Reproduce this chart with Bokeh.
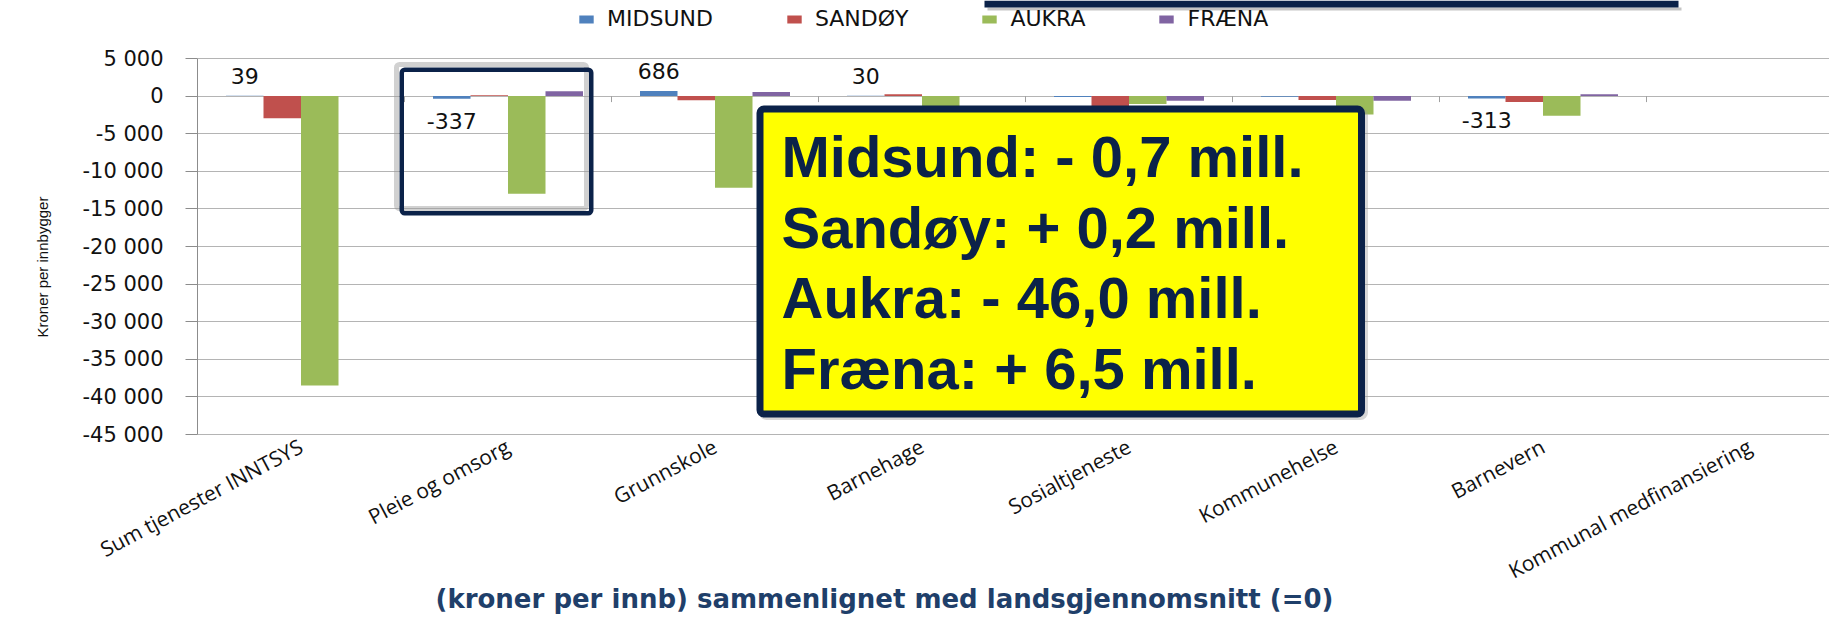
import math
from bokeh.plotting import figure
from bokeh.models import FixedTicker, BoxAnnotation, Label, Range1d, ColumnDataSource, Title
from bokeh.core.properties import value
from bokeh.embed import file_html
from bokeh.resources import INLINE

# ---------------- data ----------------
categories = ["Sum tjenester INNTSYS", "Pleie og omsorg", "Grunnskole", "Barnehage",
              "Sosialtjeneste", "Kommunehelse", "Barnevern", "Kommunal medfinansiering"]
series_names = ["MIDSUND", "SANDØY", "AUKRA", "FRÆNA"]
NAN = float("nan")
midsund = [39, -337, 686, 30, -110, -100, -313, NAN]
sandoy = [-2950, 100, -550, 250, -1400, -530, -800, NAN]
aukra = [-38500, -13000, -12200, -2000, -1050, -2450, -2600, NAN]
fraena = [0, 650, 550, 0, -620, -620, 230, NAN]
y_ticks = [5000, 0, -5000, -10000, -15000, -20000, -25000, -30000, -35000, -40000, -45000]
y_tick_labels = ["5 000", "0", "-5 000", "-10 000", "-15 000", "-20 000", "-25 000",
                 "-30 000", "-35 000", "-40 000", "-45 000"]
summary_lines = ["Midsund: - 0,7 mill.", "Sandøy: + 0,2 mill.",
                 "Aukra: - 46,0 mill.", "Fræna: + 6,5 mill."]
x_title = "(kroner per innb) sammenlignet med landsgjennomsnitt (=0)"
y_title = "Kroner per innbygger"

# ---------------- styling / layout ----------------
colors = ["#4F81BD", "#C0504D", "#9BBB59", "#8064A2"]
NAVY = "#0B2249"
GRID = "#B4B4B4"
W, H = 1829, 620
FRAME_L = 197          # px of the value axis
TOP_PX, BOT_PX = 58, 434   # px of the 5 000 and -45 000 lines
Y_MIN, Y_MAX = -45000, 5000
CAT_PX = 207.0
X_MIN = -0.5
X_MAX = X_MIN + (W - FRAME_L) / CAT_PX
BAR_W = 37.5 / CAT_PX


def dx(px):
    return X_MIN + (px - FRAME_L) / CAT_PX


def dy(py):
    return Y_MAX - (py - TOP_PX) * (Y_MAX - Y_MIN) / (BOT_PX - TOP_PX)


p = figure(width=W, height=H, x_range=Range1d(X_MIN, X_MAX), y_range=Range1d(Y_MIN, dy(0)),
           output_backend="svg", toolbar_location=None,
           min_border_left=FRAME_L, min_border_top=0,
           min_border_bottom=H - BOT_PX, min_border_right=0)
p.outline_line_color = None
p.background_fill_color = "white"
p.border_fill_color = "white"

n = len(categories)
all_series = [midsund, sandoy, aukra, fraena]
for k, (name, vals, col) in enumerate(zip(series_names, all_series, colors)):
    xs = [i + (k - 1.5) * BAR_W for i in range(n)]
    p.vbar(x=xs, top=vals, bottom=0, width=BAR_W, fill_color=col, line_color=None,
           legend_label=name)

# small tick marks on the zero line at category boundaries
bx = [i + 0.5 for i in range(n)]
p.segment(x0=bx, y0=[0] * n, x1=bx, y1=[dy(TOP_PX + 6) - dy(TOP_PX)] * n,
          line_color="#A0A0A0", line_width=1)

# Midsund data labels
lab_x, lab_y, lab_t, lab_off = [], [], [], []
for i, v in enumerate(midsund):
    if v == v:
        lab_x.append(i - 1.5 * BAR_W)
        lab_y.append(v)
        lab_t.append(str(v))
        lab_off.append(-20 if v >= 0 else 22)
src = ColumnDataSource(dict(x=lab_x, y=lab_y, t=lab_t, o=lab_off))
p.text(x="x", y="y", text="t", y_offset="o", source=src, text_align="center",
       text_baseline="middle", text_font=value("DejaVu Sans"), text_font_size="22px",
       text_color="#111111")

# axes
p.yaxis.ticker = FixedTicker(ticks=y_ticks)
p.yaxis.bounds = (Y_MIN, Y_MAX)
p.yaxis.major_label_overrides = dict(zip(y_ticks, y_tick_labels))
p.yaxis.major_label_text_font = "DejaVu Sans"
p.yaxis.major_label_text_font_size = "21px"
p.yaxis.major_label_text_color = "#111111"
p.yaxis.axis_line_color = "#8C8C8C"
p.yaxis.major_tick_line_color = "#8C8C8C"
p.yaxis.major_tick_out = 12
p.yaxis.major_tick_in = 0
p.yaxis.minor_tick_line_color = None
p.yaxis.major_label_standoff = 22

p.xaxis.ticker = FixedTicker(ticks=list(range(n)))
p.xaxis.major_label_overrides = {i: c for i, c in enumerate(categories)}
p.xaxis.major_label_orientation = math.radians(28)
p.xaxis.major_label_text_font = "Open Sans"
p.xaxis.major_label_text_font_size = "21px"
p.xaxis.major_label_text_color = "#111111"
p.xaxis.major_tick_line_color = None
p.xaxis.minor_tick_line_color = None
p.xaxis.axis_line_color = GRID
p.xaxis.major_label_standoff = 4

p.ygrid.ticker = FixedTicker(ticks=y_ticks)
p.ygrid.grid_line_color = GRID
p.xgrid.grid_line_color = None

# legend (inside the frame, above the 5 000 line)
leg = p.legend[0]
leg.orientation = "horizontal"
leg.location = (380, BOT_PX - 31)
leg.background_fill_alpha = 0
leg.border_line_color = None
leg.glyph_width = 18
leg.glyph_height = 10
leg.label_text_font = "DejaVu Sans"
leg.label_text_font_size = "22px"
leg.label_text_color = "#111111"
leg.label_standoff = 12
leg.spacing = 72
leg.padding = 0
leg.margin = 0

# navy band at the very top (bottom edge of a box above the chart)
p.add_layout(BoxAnnotation(left=dx(987), right=dx(1681), top=dy(7), bottom=dy(10),
                           fill_color="#7F7F7F", fill_alpha=0.45, line_alpha=0))
p.add_layout(BoxAnnotation(left=dx(984), right=dx(1678), top=dy(0), bottom=dy(7),
                           fill_color=NAVY, fill_alpha=1, line_alpha=0))

# navy outline around "Pleie og omsorg" (with soft shadow)
p.add_layout(BoxAnnotation(left=dx(396), right=dx(586), top=dy(64), bottom=dy(208),
                           fill_alpha=0, line_color="#9A9A9A", line_alpha=0.45,
                           line_width=5, border_radius=3))
p.add_layout(BoxAnnotation(left=dx(401.25), right=dx(590.75), top=dy(69.25), bottom=dy(212.75),
                           fill_alpha=0, line_color=NAVY, line_alpha=1, line_width=4.5,
                           border_radius=3))

# yellow summary box
p.add_layout(BoxAnnotation(left=dx(762), right=dx(1364), top=dy(111), bottom=dy(416),
                           fill_alpha=0, line_color="#9A9A9A", line_alpha=0.4,
                           line_width=7, border_radius=4))
p.add_layout(BoxAnnotation(left=dx(759.5), right=dx(1361), top=dy(108.5), bottom=dy(413.5),
                           fill_color="#FFFF00", fill_alpha=1, line_color=NAVY, line_alpha=1,
                           line_width=7, border_radius=4))
FS = 58
for j, line in enumerate(summary_lines):
    base = 176 + 70.7 * j
    p.add_layout(Label(x=dx(781), y=dy(base - 0.3465 * FS), text=line, text_align="left",
                       text_baseline="middle", text_font="Liberation Sans",
                       text_font_style="bold", text_font_size=f"{FS}px", text_color=NAVY))

# axis titles
p.add_layout(Title(text=x_title, align="left", vertical_align="top", offset=238, standoff=-32,
                   text_font="DejaVu Sans", text_font_style="bold", text_font_size="26px",
                   text_color="#1F3F6A"), "below")
p.add_layout(Title(text=y_title, align="left", offset=97, standoff=58,
                   text_font="Liberation Sans", text_font_style="normal",
                   text_font_size="15px", text_color="#111111"), "left")

open("out.html", "w").write(file_html(p, INLINE))
